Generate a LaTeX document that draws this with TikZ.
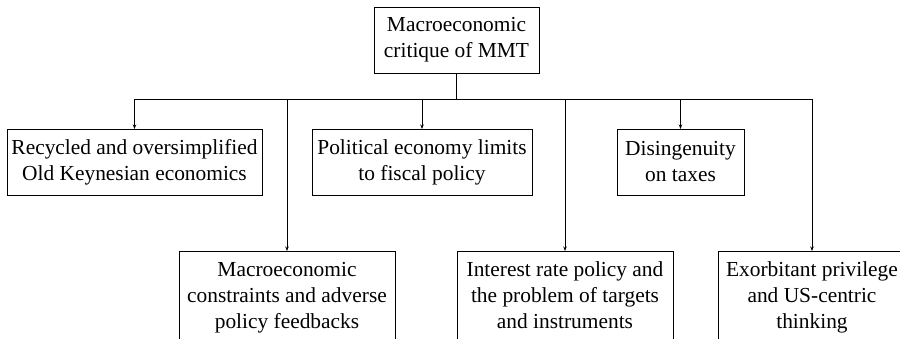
\documentclass[tikz,border=0pt]{standalone}
\usepackage{fontspec}
\setmainfont{Liberation Serif}
\usetikzlibrary{arrows.meta}
\begin{document}
\begin{tikzpicture}[x=1pt, y=-1pt, font=\fontsize{21.4}{26}\selectfont, every node/.style={draw, line width=0.8pt, align=center, inner sep=2pt, outer sep=0pt}, topic/.style={minimum height=66pt}, subtopic/.style={minimum height=96pt, execute at end node={\strut}}, link/.style={line width=0.8pt}, arrowlink/.style={link, -{Stealth[length=4.5pt, width=3.5pt]}}]
        \useasboundingbox (0, 0) rectangle (900, 338);
        \clip (0, 0) rectangle (900, 338);
        \node[minimum width=165pt, minimum height=66pt] (critique) at (456.5, 40) {Macroeconomic\\critique of MMT};
        \coordinate (bus) at (456.5, 99);

        \node[topic, minimum width=255pt] (recycled) at (134.5, 162) {Recycled and oversimplified\\Old Keynesian economics};
        \node[topic, minimum width=220pt] (political) at (422, 162) {Political economy limits\\to fiscal policy};
        \node[topic, minimum width=127pt] (taxes) at (680.5, 162) {Disingenuity\\on taxes};

        \node[subtopic, minimum width=216pt] (constraints) at (287, 299) {Macroeconomic\\constraints and adverse\\policy feedbacks};
        \node[subtopic, minimum width=216pt] (interest) at (565, 299) {Interest rate policy and\\the problem of targets\\and instruments};
        \node[subtopic, minimum width=188pt] (privilege) at (812, 299) {Exorbitant privilege\\and US-centric\\thinking};

        \draw[link] (critique) -- (bus);
        \draw[link] (recycled.north |- bus) -- (privilege.north |- bus);
        \foreach \child in {recycled, political, taxes, constraints, interest, privilege}
            \draw[arrowlink] (\child.north |- bus) -- (\child);
    \end{tikzpicture}
\end{document}
